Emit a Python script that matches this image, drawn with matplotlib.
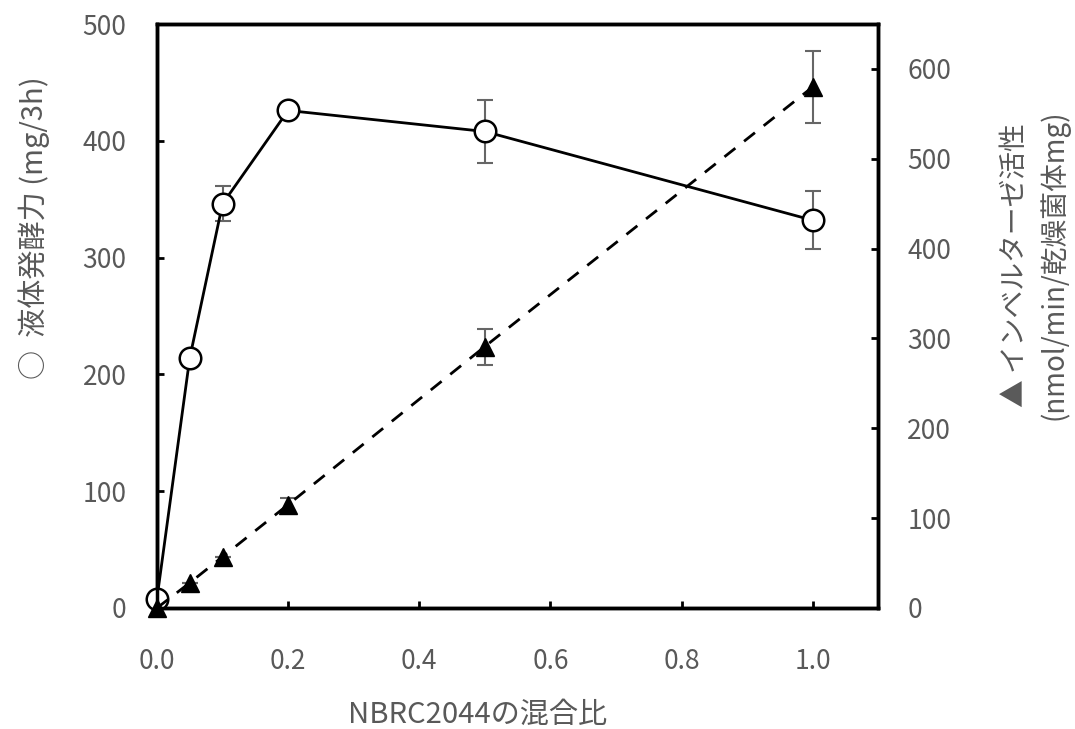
import numpy as np
import matplotlib.pyplot as plt

plt.rcParams['font.family'] = ['Noto Sans CJK JP', 'DejaVu Sans']

# mixing ratio of NBRC2044
ratio = [0.0, 0.05, 0.1, 0.2, 0.5, 1.0]

# liquid fermentation power (mg/3h), left axis
ferment = [8, 214, 346, 426, 408, 332]
ferment_err = [0, 5, 15, 0, 27, 25]

# invertase activity (nmol/min/mg dry cells), right axis
invertase = [0, 28, 57, 115, 291, 580]
invertase_err = [0, 0, 0, 7, 20, 40]

text_col = '#595959'
err_col = '#666666'

fig = plt.figure(figsize=(10.75, 7.29), dpi=100)
ax = fig.add_axes([0.146, 0.166, 0.671, 0.801])
ax2 = ax.twinx()

ax.errorbar(ratio, ferment, yerr=ferment_err, fmt='none', ecolor=err_col,
            elinewidth=1.5, capsize=6, capthick=1.5, zorder=2)
ax.plot(ratio, ferment, '-', color='black', lw=2, marker='o', ms=15.5,
        mfc='white', mec='black', mew=1.8, zorder=3, clip_on=False)

ax2.errorbar(ratio, invertase, yerr=invertase_err, fmt='none', ecolor=err_col,
             elinewidth=1.5, capsize=6, capthick=1.5, zorder=2)
ax2.plot(ratio, invertase, '--', color='black', lw=2, marker='^', ms=13,
         mfc='black', mec='black', dashes=(5, 4), zorder=3, clip_on=False)

ax.set_xlim(0, 1.1)
ax.set_ylim(0, 500)
ax2.set_ylim(0, 650)
ax.set_xticks([0.0, 0.2, 0.4, 0.6, 0.8, 1.0])
ax.set_xticklabels(['0.0', '0.2', '0.4', '0.6', '0.8', '1.0'])
ax.set_yticks(np.arange(0, 501, 100))
ax2.set_yticks(np.arange(0, 601, 100))

for a in (ax, ax2):
    for s in a.spines.values():
        s.set_linewidth(2.5)
    a.tick_params(direction='in', length=5, width=2, labelsize=19,
                  labelcolor=text_col)
ax.tick_params(axis='x', pad=29)
ax.tick_params(axis='y', pad=22)
ax2.tick_params(axis='y', pad=21)

# axis titles are not centred on the axes in the original, place them by hand
ax.set_xlabel('NBRC2044の混合比', fontsize=21, color=text_col)
ax.xaxis.set_label_coords(0.444, -0.158)
ax.set_ylabel('○  液体発酵力 (mg/3h)', fontsize=21, color=text_col)
ax.yaxis.set_label_coords(-0.148, 0.651)
ax2.set_ylabel('▲ インベルターゼ活性\n(nmol/min/乾燥菌体mg)', fontsize=20,
               color=text_col, linespacing=1.35)
ax2.yaxis.set_label_coords(1.169, 0.587)

fig.savefig('out.png', dpi=100)
